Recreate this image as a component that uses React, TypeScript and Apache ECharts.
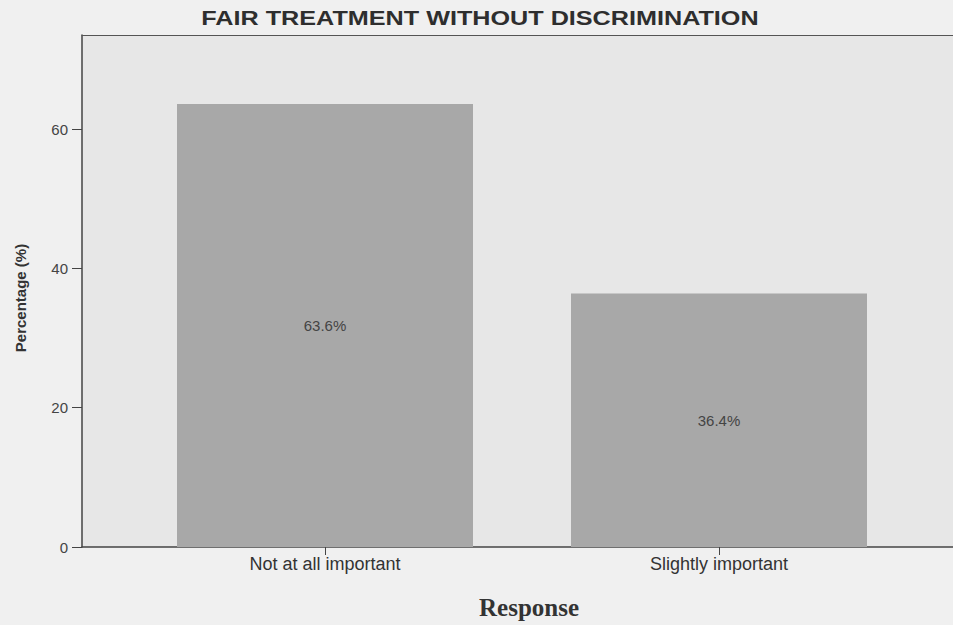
import React, { useEffect, useRef } from "react";
import * as echarts from "echarts";

const categories = ["Not at all important", "Slightly important"];
const percentages = [63.6, 36.4];
const yTicks = [0, 20, 40, 60];
const yMax = 73.5;
const titleText = "FAIR TREATMENT WITHOUT DISCRIMINATION";
const xName = "Response";
const yName = "Percentage (%)";

export default function App() {
  const ref = useRef<HTMLDivElement>(null);
  useEffect(() => {
    const chart = echarts.init(ref.current!, null, { renderer: "svg" });
    const sans = "'Liberation Sans', Arial, sans-serif";
    const frameAxis = {
      type: "value",
      gridIndex: 0,
      min: 0,
      max: 1,
      axisLine: { show: true, lineStyle: { color: "#444", width: 1.5 } },
      axisTick: { show: false },
      axisLabel: { show: false },
      splitLine: { show: false },
    };
    chart.setOption({
      animation: false,
      backgroundColor: "#f0f0f0",
      grid: [
        {
          left: 82,
          right: 0,
          top: 35,
          bottom: 78,
          show: true,
          backgroundColor: "#e7e7e7",
          borderWidth: 0,
        },
        { left: 128, right: 37, top: 35, bottom: 78 },
      ],
      xAxis: [
        { ...frameAxis, position: "bottom" },
        {
          type: "category",
          gridIndex: 1,
          data: categories,
          axisLine: { show: false },
          axisTick: {
            show: true,
            alignWithLabel: true,
            length: 8,
            lineStyle: { color: "#444" },
          },
          axisLabel: {
            color: "#333",
            fontSize: 18,
            margin: 8,
            fontFamily: sans,
          },
        },
        {
          ...frameAxis,
          position: "top",
          axisLine: { show: true, lineStyle: { color: "#555", width: 1 } },
        },
      ],
      yAxis: [
        {
          type: "value",
          gridIndex: 0,
          min: 0,
          max: yMax,
          axisLine: { show: true, lineStyle: { color: "#444", width: 1.5 } },
          axisTick: {
            show: true,
            length: 10,
            customValues: yTicks,
            lineStyle: { color: "#444" },
          },
          axisLabel: {
            customValues: yTicks,
            color: "#444",
            fontSize: 15,
            margin: 14,
            fontFamily: sans,
          },
          splitLine: { show: false },
        },
        { type: "value", gridIndex: 1, min: 0, max: yMax, show: false },
      ],
      series: [
        {
          type: "bar",
          xAxisIndex: 1,
          yAxisIndex: 1,
          data: percentages,
          barWidth: 296,
          itemStyle: { color: "#a8a8a8" },
          label: {
            show: true,
            position: "inside",
            formatter: (p: any) => p.value.toFixed(1) + "%",
            color: "#444",
            fontSize: 15,
            fontFamily: sans,
          },
        },
      ],
      graphic: [
        {
          type: "text",
          x: 480,
          y: 18,
          scaleX: 1.26,
          style: {
            text: titleText,
            font: "bold 20px " + sans,
            fill: "#2e2e2e",
            textAlign: "center",
            textVerticalAlign: "middle",
          },
        },
        {
          type: "text",
          x: 20,
          y: 298,
          rotation: Math.PI / 2,
          style: {
            text: yName,
            font: "bold 15px " + sans,
            fill: "#333",
            textAlign: "center",
            textVerticalAlign: "middle",
          },
        },
        {
          type: "text",
          x: 529,
          y: 607,
          style: {
            text: xName,
            font: "bold 25px 'Liberation Serif', 'Times New Roman', serif",
            fill: "#333",
            textAlign: "center",
            textVerticalAlign: "middle",
          },
        },
      ],
    });
    return () => chart.dispose();
  }, []);
  return (
    <div
      ref={ref}
      style={{ position: "fixed", left: 0, top: 0, width: 953, height: 625 }}
    />
  );
}
